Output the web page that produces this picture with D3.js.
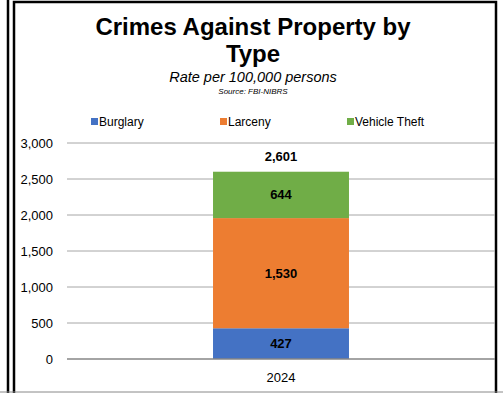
<!DOCTYPE html>
<html>
<head>
<meta charset="utf-8">
<script src="https://cdn.jsdelivr.net/npm/d3@7"></script>
<style>
  body { margin: 0; background: #fff; }
  svg { font-family: Arial, "Liberation Sans", sans-serif; }
</style>
</head>
<body>
<div id="chart"></div>
<script>
var years = ["2024"]
var seriesNames = ["Burglary", "Larceny", "Vehicle Theft"]
var seriesColors = ["#4472C4", "#ED7D31", "#70AD47"]
var burglary = [427]
var larceny = [1530]
var vehicleTheft = [644]
var totals = [2601]
var yTicks = [0, 500, 1000, 1500, 2000, 2500, 3000]

var width = 503, height = 393
var svg = d3.select("#chart").append("svg")
  .attr("width", width).attr("height", height)

// frame lines
svg.append("line").attr("x1", 8).attr("x2", 8).attr("y1", 0).attr("y2", height)
  .attr("stroke", "#000").attr("stroke-width", 2.5)
svg.append("rect").attr("x", 14).attr("y", 2).attr("width", 482).attr("height", 395)
  .attr("fill", "none").attr("stroke", "#000").attr("stroke-width", 2.5)
svg.append("line").attr("x1", 0).attr("x2", width).attr("y1", 392).attr("y2", 392)
  .attr("stroke", "#888").attr("stroke-width", 1)

// titles
var title = svg.append("text").attr("text-anchor", "middle")
  .attr("font-size", 24).attr("font-weight", "bold")
title.append("tspan").attr("x", 253).attr("y", 35).text("Crimes Against Property by")
title.append("tspan").attr("x", 253).attr("y", 62).text("Type")
svg.append("text").attr("x", 253).attr("y", 82).attr("text-anchor", "middle")
  .attr("font-size", 14.5).attr("font-style", "italic").text("Rate per 100,000 persons")
svg.append("text").attr("x", 253).attr("y", 94).attr("text-anchor", "middle")
  .attr("font-size", 8).attr("font-style", "italic").text("Source: FBI-NIBRS")

// legend
var legendX = [91, 220, 347]
var legend = svg.selectAll(".leg").data(seriesNames).enter().append("g")
  .attr("transform", function(d, i) { return "translate(" + legendX[i] + ",118)" })
legend.append("rect").attr("width", 7).attr("height", 7)
  .attr("fill", function(d, i) { return seriesColors[i] })
legend.append("text").attr("x", 8).attr("y", 8).attr("font-size", 12).text(function(d) { return d })

var plotLeft = 67, plotRight = 495
var x = d3.scaleBand().domain(years).range([plotLeft, plotRight]).paddingInner(0.5).paddingOuter(0.537)
var y = d3.scaleLinear().domain([0, 3000]).range([359, 143])

// gridlines
svg.append("g").selectAll("line").data(yTicks.slice(1)).enter().append("line")
  .attr("x1", plotLeft).attr("x2", plotRight)
  .attr("y1", function(d) { return y(d) }).attr("y2", function(d) { return y(d) })
  .attr("stroke", "#a6a6a6").attr("stroke-width", 1)

// y axis labels
var yAxis = d3.axisLeft(y).tickValues(yTicks).tickSize(0).tickPadding(0)
  .tickFormat(d3.format(","))
var ya = svg.append("g").attr("transform", "translate(53,0)").call(yAxis)
ya.select(".domain").remove()
ya.selectAll("text").attr("font-size", 13).attr("fill", "#000")
  .attr("font-family", "Arial, 'Liberation Sans', sans-serif")

// stacked data
var rows = years.map(function(yr, i) {
  return {year: yr, Burglary: burglary[i], Larceny: larceny[i], "Vehicle Theft": vehicleTheft[i]}
})
var stack = d3.stack().keys(seriesNames)(rows)

var layers = svg.selectAll(".layer").data(stack).enter().append("g")
  .attr("fill", function(d, i) { return seriesColors[i] })
layers.selectAll("rect").data(function(d) { return d }).enter().append("rect")
  .attr("x", function(d) { return x(d.data.year) })
  .attr("width", x.bandwidth())
  .attr("y", function(d) { return y(d[1]) })
  .attr("height", function(d) { return y(d[0]) - y(d[1]) })

layers.selectAll("text").data(function(d) { return d }).enter().append("text")
  .attr("x", function(d) { return x(d.data.year) + x.bandwidth() / 2 })
  .attr("y", function(d) { return (y(d[0]) + y(d[1])) / 2 + 4.5 })
  .attr("text-anchor", "middle").attr("font-size", 13).attr("font-weight", "bold")
  .attr("fill", "#000")
  .text(function(d) { return d3.format(",")(d[1] - d[0]) })

// totals
svg.selectAll(".tot").data(totals).enter().append("text")
  .attr("x", function(d, i) { return x(years[i]) + x.bandwidth() / 2 })
  .attr("y", function(d) { return y(d) - 11 })
  .attr("text-anchor", "middle").attr("font-size", 13).attr("font-weight", "bold")
  .text(function(d) { return d3.format(",")(d) })

// baseline
svg.append("line").attr("x1", plotLeft).attr("x2", plotRight).attr("y1", y(0)).attr("y2", y(0))
  .attr("stroke", "#868686").attr("stroke-width", 1.5)

// x axis labels
svg.selectAll(".xl").data(years).enter().append("text")
  .attr("x", function(d) { return x(d) + x.bandwidth() / 2 }).attr("y", 382)
  .attr("text-anchor", "middle").attr("font-size", 13).text(function(d) { return d })
</script>
</body>
</html>
